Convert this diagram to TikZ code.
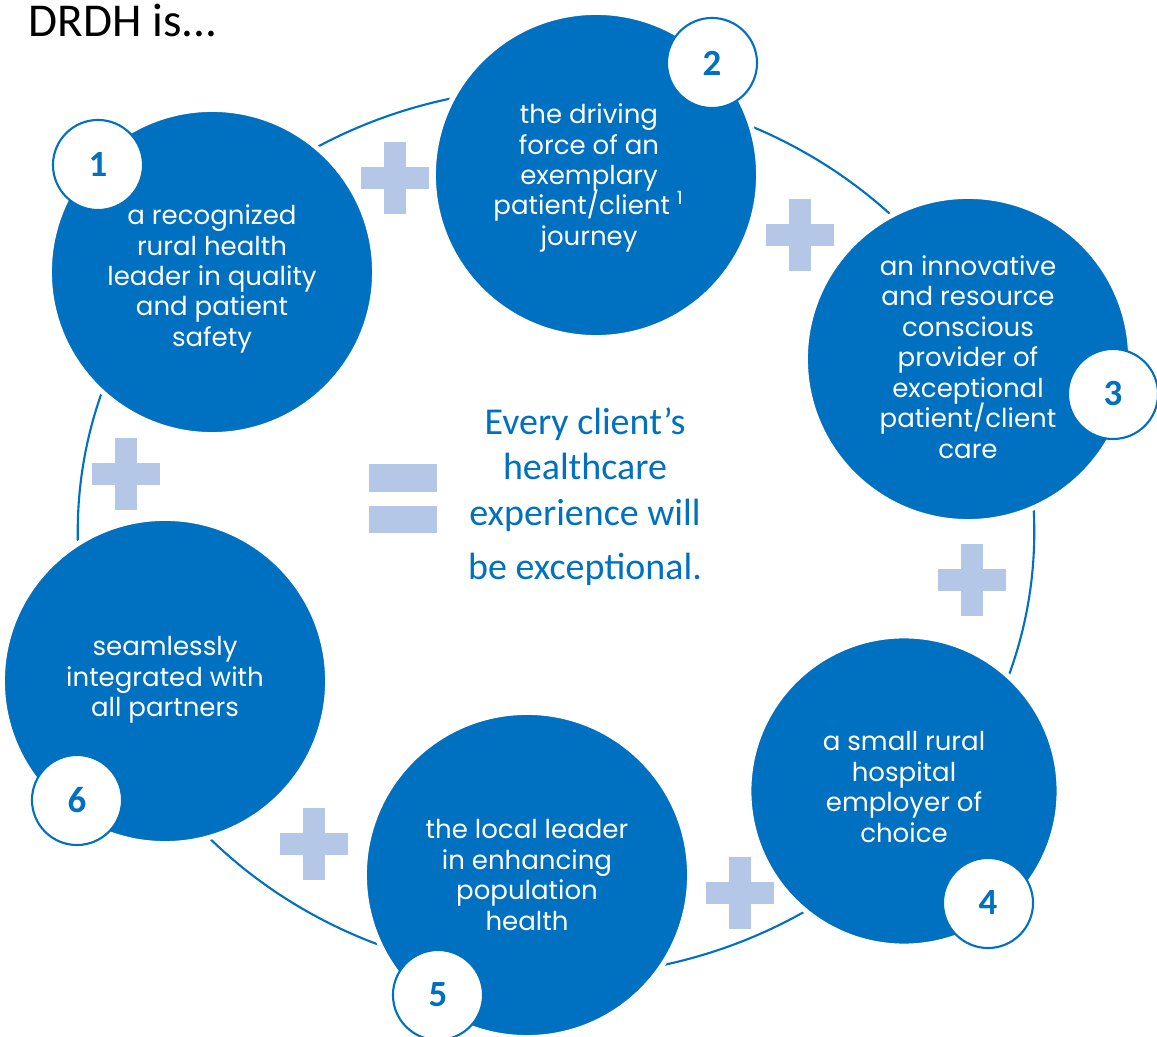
\documentclass[tikz,border=0pt]{standalone}
\usepackage{fontspec}
\setmainfont{Carlito}
\newfontfamily\goalfont{Poppins}
\usepackage{tikz}

\definecolor{drdhblue}{HTML}{0070C0}
\definecolor{plusblue}{HTML}{B4C7E7}

\newcommand\goalsize{\goalfont\fontsize{7.4}{8.65}\selectfont\lineskiplimit=-20pt\relax}

\tikzset{
    goal/.style={circle, fill=drdhblue, draw=white, line width=0.05cm, minimum size=3.25cm, inner sep=0pt},
    goaltext/.style={text=white, align=center, inner sep=0pt, font=\goalsize},
    badge/.style={circle, fill=white, draw=drdhblue, line width=0.6pt, minimum size=0.9cm,
        inner sep=0pt, text=drdhblue, font=\bfseries\fontsize{10.5}{12}\selectfont},
    ring/.style={draw=drdhblue, line width=0.6pt},
    plusbar/.style={fill=plusblue},
    motto/.style={text=drdhblue, inner sep=0pt, font=\fontsize{10.8}{13}\selectfont},
}

\begin{document}
\begin{tikzpicture}[x=0.01cm, y=-0.01cm]
    \useasboundingbox (0,0) rectangle (1157,1037);

    % Title
    \node[anchor=base west, inner sep=0pt, font=\fontsize{13.4}{16}\selectfont] (title) at (28,37) {DRDH is...};

    % Draw the big ring behind the circles
    \draw[ring] (556,532) ellipse [x radius=4.78cm, y radius=4.44cm];

    % Draw the six goal circles
    \node[goal] (c1) at (212,272) {};
    \node[goal] (c2) at (596,175) {};
    \node[goal] (c3) at (968,359) {};
    \node[goal, minimum size=3.1cm] (c4) at (904,791) {};
    \node[goal] (c5) at (527,875) {};
    \node[goal] (c6) at (165,681) {};

    % Texts inside the circles
    \node[goaltext] (t1) at (212,279) {a recognized\\rural health\\leader in quality\\and patient\\safety};
    \node[goaltext] (t2) at (589,178) {the driving\\force of an\\exemplary\\patient/client \smash{\textsuperscript{1}}\\journey};
    \node[goaltext] (t3) at (968,357) {an innovative\\and resource\\conscious\\provider of\\exceptional\\patient/client\\care};
    \node[goaltext] (t4) at (904,787) {a small rural\\hospital\\employer of\\choice};
    \node[goaltext] (t5) at (527,875) {the local leader\\in enhancing\\population\\health};
    \node[goaltext] (t6) at (165,680) {seamlessly\\integrated with\\all partners};

    % Draw number badges
    \foreach \n/\x/\y in {1/98/165, 2/712/63, 3/1113/394, 4/988/903, 5/438/995, 6/77/800} {
        \node[badge] (b\n) at (\x,\y) {\n};
    }

    % Draw plus signs between the circles
    \foreach \x/\y in {395/178, 800/235, 972/580, 740/893, 314/844, 126/474} {
        \fill[plusbar] (\x-34,\y-11) rectangle (\x+34,\y+11);
        \fill[plusbar] (\x-11,\y-36) rectangle (\x+11,\y+36);
    }

    % Draw the equals sign
    \fill[plusbar] (369,464) rectangle (437,492);
    \fill[plusbar] (369,506) rectangle (437,533);

    % Centre statement
    \foreach \i/\y/\t in {1/435/Every client’s, 2/480/healthcare, 3/526/experience will, 4/580/be exceptional.} {
        \node[motto, anchor=base] (m\i) at (585,\y) {\t};
    }

\end{tikzpicture}
\end{document}
